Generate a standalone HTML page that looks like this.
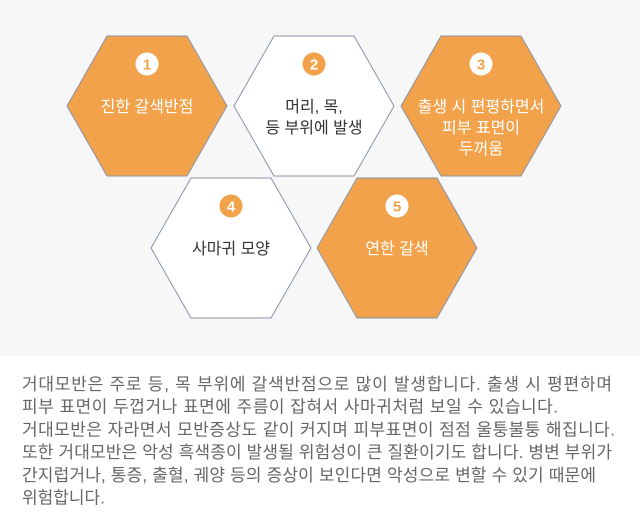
<!DOCTYPE html>
<html><head><meta charset="utf-8"><style>
body{margin:0;width:640px;height:516px;background:#fff;overflow:hidden;font-family:"Liberation Sans","Noto Sans CJK KR",sans-serif}
.top{position:absolute;left:0;top:0;width:640px;height:356px;background:#f7f7f7}
</style></head><body>
<div class="top"></div>
<svg width="640" height="356" style="position:absolute;left:0;top:0" font-family="Liberation Sans, Noto Sans CJK KR, sans-serif">
<g stroke="#8a93a8" stroke-width="1">
<polygon points="67,106 107,36 187,36 227,106 187,176 107,176" fill="#f2a24a"/>
<polygon points="234,106 274,36 354,36 394,106 354,176 274,176" fill="#fff"/>
<polygon points="401,106 441,36 521,36 561,106 521,176 441,176" fill="#f2a24a"/>
<polygon points="151,248 191,178 271,178 311,248 271,318 191,318" fill="#fff"/>
<polygon points="317,248 357,178 437,178 477,248 437,318 357,318" fill="#f2a24a"/>
</g>
<g font-size="15" font-weight="bold" text-anchor="middle">
<circle cx="147" cy="64" r="11.5" fill="#fff"/><text x="147" y="69.5" fill="#f2a24a">1</text>
<circle cx="314" cy="64" r="11.5" fill="#f2a24a"/><text x="314" y="69.5" fill="#fff">2</text>
<circle cx="481" cy="64" r="11.5" fill="#fff"/><text x="481" y="69.5" fill="#f2a24a">3</text>
<circle cx="231" cy="206" r="11.5" fill="#f2a24a"/><text x="231" y="211.5" fill="#fff">4</text>
<circle cx="397" cy="206" r="11.5" fill="#fff"/><text x="397" y="211.5" fill="#f2a24a">5</text>
</g>
<g font-size="16" text-anchor="middle">
<text x="147" y="112" fill="#fff">진한 갈색반점</text>
<text x="314" y="112" fill="#333">머리, 목,</text>
<text x="314" y="133" fill="#333">등 부위에 발생</text>
<text x="481" y="112" fill="#fff">출생 시 편평하면서</text>
<text x="481" y="133" fill="#fff">피부 표면이</text>
<text x="481" y="154" fill="#fff">두꺼움</text>
<text x="231" y="254" fill="#333">사마귀 모양</text>
<text x="397" y="254" fill="#fff">연한 갈색</text>
</g>
</svg>
<svg width="640" height="160" style="position:absolute;left:0;top:356px" font-family="Liberation Sans, Noto Sans CJK KR, sans-serif" font-size="17" fill="#666">
<text x="22" y="34" textLength="590" lengthAdjust="spacing">거대모반은 주로 등, 목 부위에 갈색반점으로 많이 발생합니다. 출생 시 평편하며</text>
<text x="22" y="56.7" textLength="536" lengthAdjust="spacing">피부 표면이 두껍거나 표면에 주름이 잡혀서 사마귀처럼 보일 수 있습니다.</text>
<text x="22" y="79.4" textLength="593" lengthAdjust="spacing">거대모반은 자라면서 모반증상도 같이 커지며 피부표면이 점점 울퉁불퉁 해집니다.</text>
<text x="22" y="102.1" textLength="590" lengthAdjust="spacing">또한 거대모반은 악성 흑색종이 발생될 위험성이 큰 질환이기도 합니다. 병변 부위가</text>
<text x="22" y="124.8" textLength="574" lengthAdjust="spacing">간지럽거나, 통증, 출혈, 궤양 등의 증상이 보인다면 악성으로 변할 수 있기 때문에</text>
<text x="22" y="147.5">위험합니다.</text>
</svg>
</body></html>
